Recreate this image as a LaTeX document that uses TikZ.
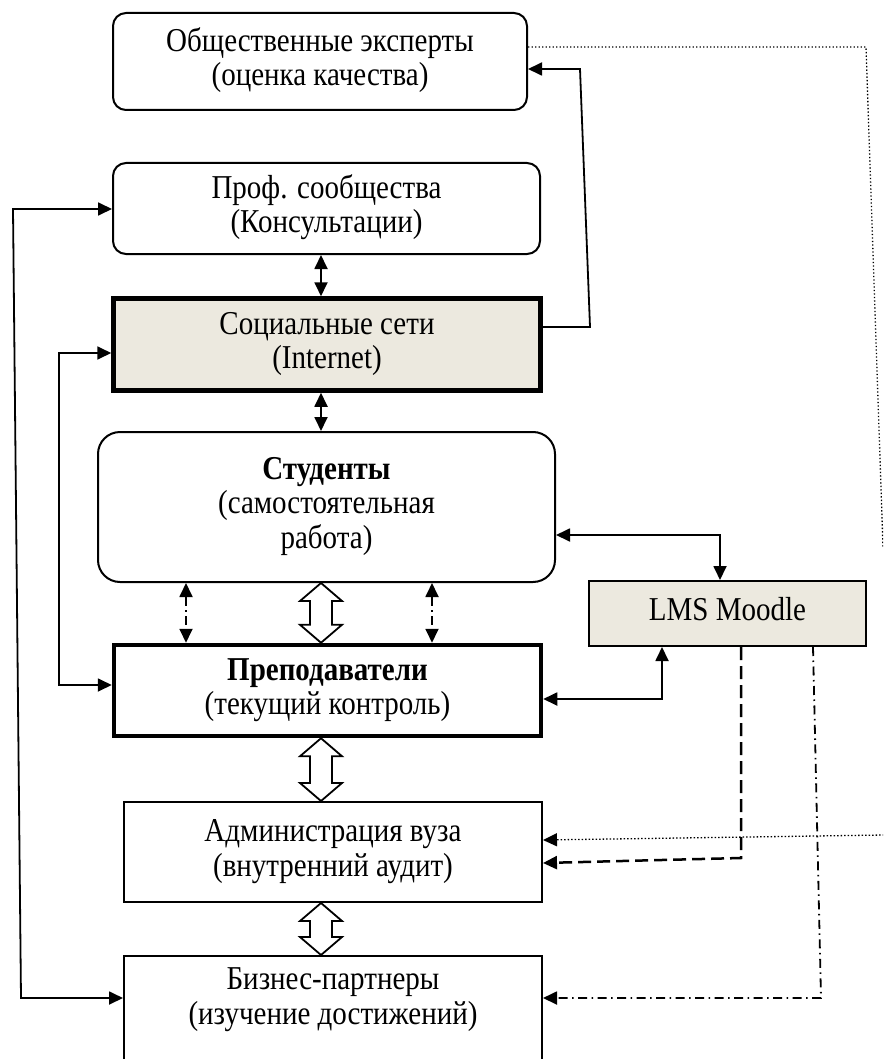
\documentclass[tikz,border=0pt]{standalone}
\usepackage{graphicx}
\usepackage{fontspec}
\setmainfont{Liberation Serif}
\usetikzlibrary{arrows.meta,calc}
\definecolor{paper}{RGB}{236,233,223}

% lines of a box label, set slightly taller than wide
\newcommand{\tallt}[1]{\scalebox{1}[1.15]{\begin{tabular}{@{}c@{}}#1\end{tabular}}}

% hollow two-headed block arrow between two points on a vertical line
\newcommand{\dblhollow}[2]{%
  \draw[hollow] let \p1=#1, \p2=#2 in
    (\x1,\y1) -- (\x1+21pt,\y1-18pt) -- (\x1+11pt,\y1-18pt) -- (\x1+11pt,\y2+18pt)
    -- (\x1+21pt,\y2+18pt) -- (\x1,\y2) -- (\x1-21pt,\y2+18pt) -- (\x1-11pt,\y2+18pt)
    -- (\x1-11pt,\y1-18pt) -- (\x1-21pt,\y1-18pt) -- cycle;}

\begin{document}
\begin{tikzpicture}[x=1pt,y=-1pt,
  >={Triangle[length=14pt,width=13pt]},
  txt/.style={font=\fontsize{29}{30}\selectfont,align=center},
  box/.style={txt,draw,line width=2pt,inner sep=0pt},
  thickbox/.style={box,line width=4.5pt},
  conn/.style={line width=1.8pt},
  dotline/.style={line width=1.3pt,dash pattern=on 1.3pt off 2.2pt},
  dashline/.style={line width=2.5pt,dash pattern=on 13pt off 6pt},
  dashdot/.style={line width=1.8pt,dash pattern=on 9pt off 4.5pt on 1.5pt off 4.5pt},
  hollow/.style={line width=1.8pt,fill=white,line join=miter}
]
\useasboundingbox (0,0) rectangle (883,1059);
\clip (0,0) rectangle (883,1059);

% boxes
\node[box,rounded corners=13pt,minimum width=414pt,minimum height=97pt] (experts) at (320,61.5)
  {\tallt{Общественные эксперты\\(оценка качества)}};
\node[box,rounded corners=13pt,minimum width=427pt,minimum height=91pt] (prof) at (326.5,208.5)
  {\tallt{Проф. сообщества\\(Консультации)}};
\node[thickbox,fill=paper,minimum width=427pt,minimum height=92pt] (social) at (327,344.5)
  {\tallt{Социальные сети\\(Internet)}};
\node[box,rounded corners=22pt,minimum width=457pt,minimum height=150pt] (students) at (326.5,507)
  {\raisebox{6pt}{\tallt{\textbf{Студенты}\\(самостоятельная\\работа)}}};
\node[box,fill=paper,minimum width=277pt,minimum height=65pt] (lms) at (727.5,613.5)
  {\tallt{LMS Moodle}};
\node[thickbox,minimum width=427pt,minimum height=91pt] (prep) at (327.5,690.5)
  {\tallt{\textbf{Преподаватели}\\(текущий контроль)}};
\node[box,minimum width=418pt,minimum height=100pt] (admin) at (333,852)
  {\tallt{Администрация вуза\\(внутренний аудит)}};
\node[box,minimum width=418pt,minimum height=164pt] (busbox) at (333,1038) {};
\node[txt] (bus) at (333,1000) {\tallt{Бизнес-партнеры\\(изучение достижений)}};

% bend points and x positions of the connectors
\coordinate (xa) at (321,0);
\coordinate (q1) at (186,0);
\coordinate (q2) at (432,0);
\coordinate (c1) at (590,327);
\coordinate (c2) at (580,69);
\coordinate (o1) at (21,998);
\coordinate (o2) at (13,209);
\coordinate (i1) at (59,353);
\coordinate (i2) at (59,685);
\coordinate (s1) at (720,535);
\coordinate (p1) at (662,699);
\coordinate (d0) at (741,0);
\coordinate (d1) at (741,858);
\coordinate (d2) at (542,863);
\coordinate (e0) at (813,0);
\coordinate (e2) at (821,998);
\coordinate (t1) at (866,47);
\coordinate (t2) at (883,547);
\coordinate (t3) at (884,835);
\coordinate (t4) at (542,840);

% small two-headed arrows in the upper column
\draw[conn,<->] (prof.south -| xa) -- (social.north -| xa);
\draw[conn,<->] (social.south -| xa) -- (students.north -| xa);

% social networks to the experts
\draw[conn,->] (social.east |- c1) -- (c1) -- (c2) -- (experts.east |- c2);

% left-hand links
\draw[conn,<->] (prof.west |- o2) -- (o2) -- (o1) -- (busbox.west |- o1);
\draw[conn,<->] (social.west |- i1) -- (i1) -- (i2) -- (prep.west |- i2);

% LMS links
\draw[conn,<->] (students.east |- s1) -- (s1) -- (lms.north -| s1);
\draw[conn,<->] (prep.east |- p1) -- (p1) -- (lms.south -| p1);
\draw[dashline,->] (lms.south -| d0) -- (d1) -- (admin.east |- d2);
\draw[dashdot,->] (lms.south -| e0) -- (e2) -- (busbox.east |- e2);

% dotted feedback lines
\draw[dotline] (experts.east |- t1) -- (t1) -- (t2);
\draw[dotline,->] (t3) -- (admin.east |- t4);

% dash-dot links between students and teachers
\draw[dashdot,<->] (students.south -| q1) -- (prep.north -| q1);
\draw[dashdot,<->] (students.south -| q2) -- (prep.north -| q2);

% hollow block arrows
\dblhollow{(students.south -| xa)}{(prep.north -| xa)}
\dblhollow{(prep.south -| xa)}{(admin.north -| xa)}
\dblhollow{(admin.south -| xa)}{(busbox.north -| xa)}
\end{tikzpicture}
\end{document}
